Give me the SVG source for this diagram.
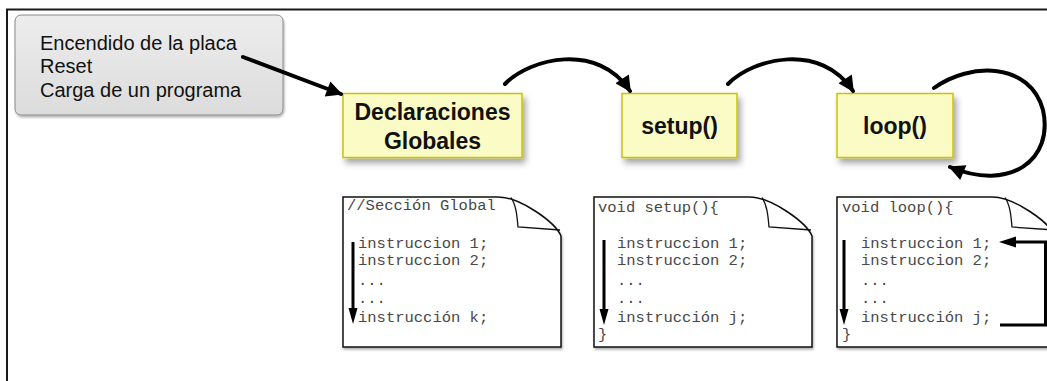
<svg xmlns="http://www.w3.org/2000/svg" width="1047" height="381" viewBox="0 0 1047 381">
<style>
.frame{fill:#fff;stroke:#1a1a1a;stroke-width:2}
.start{fill:url(#gray);stroke:#8a8a8a;stroke-width:1}
.lbl{font-family:"Liberation Sans",Arial,sans-serif;font-size:20px;fill:#111}
.node{fill:#fbfbc5;stroke:#c9c400;stroke-width:1.5}
.bold{font-family:"Liberation Sans",Arial,sans-serif;font-size:23px;font-weight:bold;fill:#111;text-anchor:middle}
.doc{fill:#fff;stroke:#111;stroke-width:1.5}
.flap{fill:none;stroke:#111;stroke-width:1.3}
.code{font-family:"Liberation Mono","Courier New",monospace;font-size:15.5px;fill:#484848}
.conn{fill:none;stroke:#000;stroke-width:4;stroke-linecap:round}
.thin{fill:none;stroke:#000;stroke-width:3}
</style>
<defs>
<linearGradient id="gray" x1="0" y1="0" x2="0" y2="1">
<stop offset="0" stop-color="#ededed"/>
<stop offset="1" stop-color="#dcdcdc"/>
</linearGradient>
<filter id="sh" x="-20%" y="-20%" width="150%" height="160%">
<feDropShadow dx="3" dy="5" stdDeviation="3" flood-color="#000" flood-opacity="0.35"/>
</filter>
<filter id="sh2" x="-10%" y="-10%" width="130%" height="130%">
<feDropShadow dx="1" dy="2" stdDeviation="1" flood-color="#000" flood-opacity="0.3"/>
</filter>
<marker id="ah" viewBox="0 0 10 10" refX="9" refY="5" markerWidth="4.8" markerHeight="4" orient="auto" markerUnits="strokeWidth">
<path d="M0,0 L10,5 L0,10 Z" fill="#000"/>
</marker>
</defs>
<rect class="frame" x="7" y="9.5" width="1100" height="420"/>

<g id="start">
<rect class="start" x="15" y="15" width="268" height="100" rx="6" filter="url(#sh2)"/>
<text class="lbl" x="40" y="50">Encendido de la placa</text>
<text class="lbl" x="40" y="73">Reset</text>
<text class="lbl" x="40" y="97">Carga de un programa</text>
</g>

<g id="globales">
<rect class="node" x="343" y="93.5" width="179" height="64" filter="url(#sh)"/>
<text class="bold" x="432.5" y="120">Declaraciones</text>
<text class="bold" x="432.5" y="149">Globales</text>
</g>

<g id="setup">
<rect class="node" x="622" y="93.5" width="115" height="64" filter="url(#sh)"/>
<text class="bold" x="679.5" y="134">setup()</text>
</g>

<g id="loop">
<rect class="node" x="837" y="93.5" width="116" height="64" filter="url(#sh)"/>
<text class="bold" x="895" y="134">loop()</text>
</g>

<g id="doc-global">
<path class="doc" d="M343,197 H498 C520,197 555,222 561,236 V347 H343 Z" filter="url(#sh2)"/>
<path class="flap" d="M511,197.5 C516,205 517,215 518,227 L560,230"/>
<text class="code" x="347" y="210">//Sección Global</text>
<text class="code" x="358" y="248">instruccion 1;</text>
<text class="code" x="358" y="265">instruccion 2;</text>
<text class="code" x="358" y="285">...</text>
<text class="code" x="358" y="303">...</text>
<text class="code" x="358" y="322">instrucción k;</text>
<path class="thin" d="M353,242 V312"/>
<path d="M348.5,308 L357.5,308 L353,324 Z" fill="#000"/>
</g>

<g id="doc-setup">
<path class="doc" d="M594,197 H749 C771,197 806,222 812,236 V347 H594 Z" filter="url(#sh2)"/>
<path class="flap" d="M762,197.5 C767,205 768,215 769,227 L811,230"/>
<text class="code" x="598" y="212">void setup(){</text>
<text class="code" x="617" y="248">instruccion 1;</text>
<text class="code" x="617" y="265">instruccion 2;</text>
<text class="code" x="617" y="285">...</text>
<text class="code" x="617" y="303">...</text>
<text class="code" x="617" y="322">instrucción j;</text>
<text class="code" x="598" y="339">}</text>
<path class="thin" d="M604,240 V312"/>
<path d="M599.5,309 L608.5,309 L604,325 Z" fill="#000"/>
</g>

<g id="doc-loop">
<path class="doc" d="M837,197 H992 C1014,197 1049,222 1055,236 V347 H837 Z" filter="url(#sh2)"/>
<path class="flap" d="M1005,197.5 C1010,205 1011,215 1012,227 L1054,230"/>
<text class="code" x="842" y="212">void loop(){</text>
<text class="code" x="861" y="248">instruccion 1;</text>
<text class="code" x="861" y="265">instruccion 2;</text>
<text class="code" x="861" y="285">...</text>
<text class="code" x="861" y="303">...</text>
<text class="code" x="861" y="322">instrucción j;</text>
<text class="code" x="842" y="339">}</text>
<path class="thin" d="M844,240 V312"/>
<path d="M839.5,309 L848.5,309 L844,325 Z" fill="#000"/>
<path class="thin" d="M1000,325 H1045.5 V242 H1014"/>
<path d="M1016,236.5 L1016,247.5 L999,242 Z" fill="#000"/>
</g>

<g id="connectors">
<path class="conn" d="M243,57 L341,94" marker-end="url(#ah)"/>
<path class="conn" d="M505,84 C530,58 598,42 630,91" marker-end="url(#ah)"/>
<path class="conn" d="M728,84 C753,58 821,42 853,91" marker-end="url(#ah)"/>
<path class="conn" d="M934,88 C970,62 1030,62 1043,110 C1054,160 1010,192 950,167" marker-end="url(#ah)"/>
</g>
</svg>
